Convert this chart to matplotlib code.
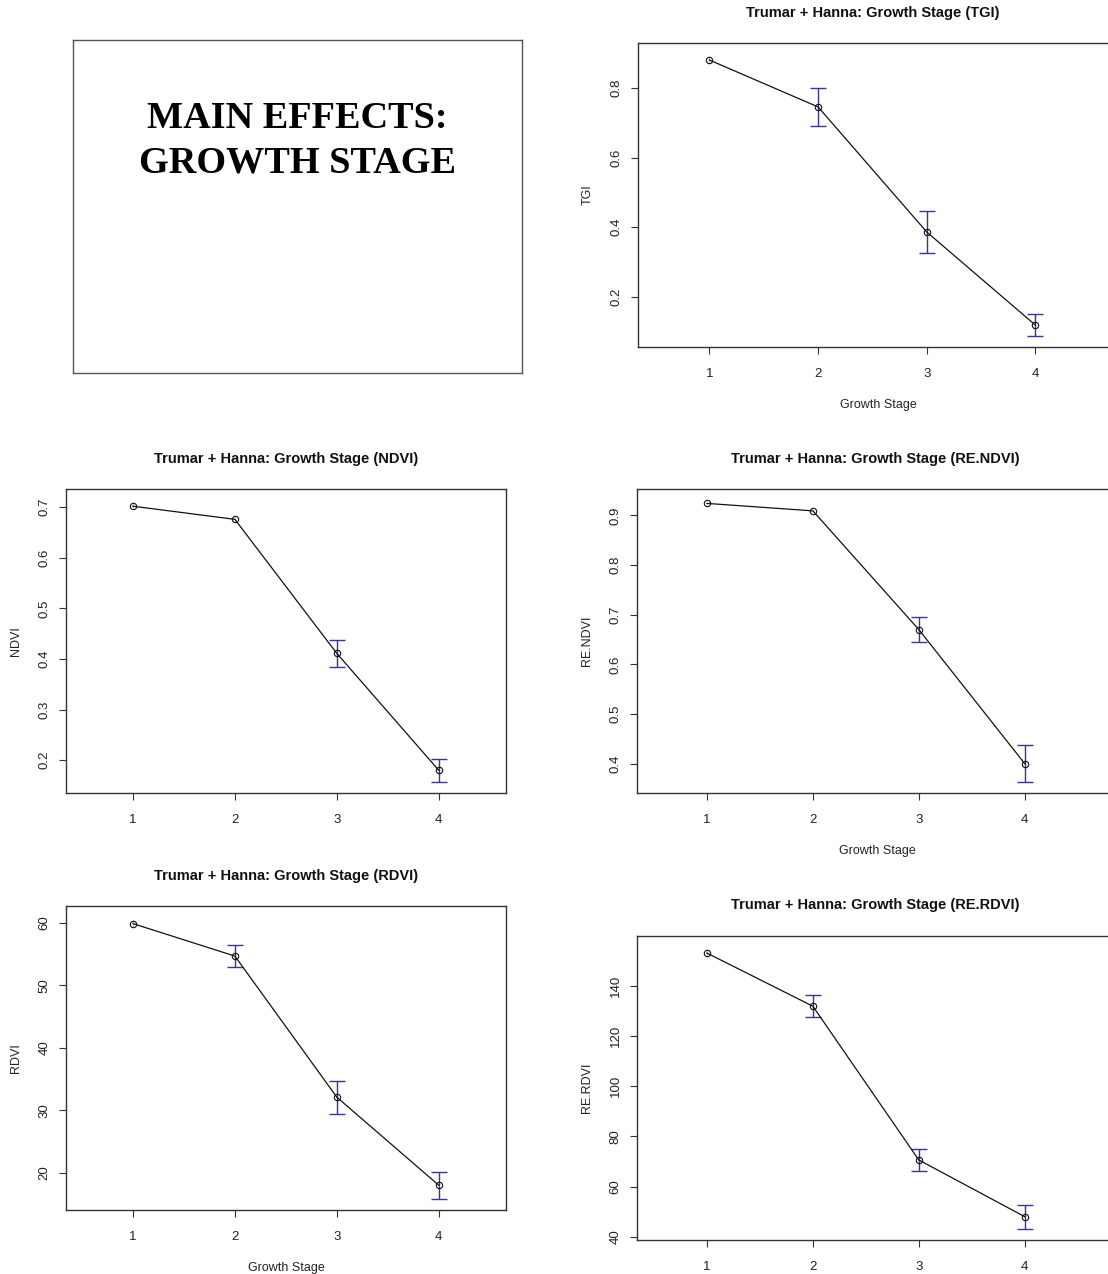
import matplotlib
matplotlib.use("Agg")
import matplotlib.pyplot as plt

stages = [1, 2, 3, 4]

tgi_mean = [0.881, 0.746, 0.386, 0.118]
tgi_err = [0.008, 0.055, 0.060, 0.031]

ndvi_mean = [0.702, 0.676, 0.411, 0.180]
ndvi_err = [0.006, 0.006, 0.027, 0.023]

rendvi_mean = [0.924, 0.909, 0.670, 0.400]
rendvi_err = [0.003, 0.003, 0.025, 0.037]

rdvi_mean = [59.9, 54.7, 32.1, 18.0]
rdvi_err = [0.6, 1.75, 2.65, 2.15]

rerdvi_mean = [153.1, 131.9, 70.6, 48.0]
rerdvi_err = [1.5, 4.45, 4.45, 4.85]

W, H = 1108, 1274
fig = plt.figure(figsize=(W / 100, H / 100), dpi=100)
plt.rcParams['font.family'] = ['Liberation Sans', 'DejaVu Sans']

def rect(l, t, r, b):
    return [l / W, 1 - b / H, (r - l) / W, (b - t) / H]

# Title box
tb = fig.add_axes(rect(73, 40, 522, 373))
tb.set_xticks([]); tb.set_yticks([])
for s in tb.spines.values():
    s.set_color('#555555'); s.set_linewidth(1.0)
for txt, yy in (("MAIN EFFECTS:", 0.765), ("GROWTH STAGE", 0.632)):
    tb.text(0.5, yy, txt, transform=tb.transAxes, ha='center', va='center',
            family=['Liberation Serif', 'DejaVu Serif'], fontweight='bold', fontsize=27.5)

panels = [
    ((638, 43, 1118, 347), "TGI", tgi_mean, tgi_err, (0.343, 4.76), (0.055, 0.930),
     [0.2, 0.4, 0.6, 0.8], True, 13, 873),
    ((66, 489, 506, 793), "NDVI", ndvi_mean, ndvi_err, (0.343, 4.66), (0.135, 0.736),
     [0.2, 0.3, 0.4, 0.5, 0.6, 0.7], False, 459, 286),
    ((637, 489, 1118, 793), "RE.NDVI", rendvi_mean, rendvi_err, (0.34, 4.88), (0.341, 0.953),
     [0.4, 0.5, 0.6, 0.7, 0.8, 0.9], True, 459, 875),
    ((66, 906, 506, 1210), "RDVI", rdvi_mean, rdvi_err, (0.343, 4.66), (14.03, 62.72),
     [20, 30, 40, 50, 60], True, 876, 286),
    ((637, 936, 1118, 1240), "RE.RDVI", rerdvi_mean, rerdvi_err, (0.34, 4.88), (38.7, 159.9),
     [40, 60, 80, 100, 120, 140], False, 905, 875),
]

ecol = '#36369a'
for (l, t, r, b), name, mean, err, xl, yl, yt, showx, ty, tx in panels:
    ax = fig.add_axes(rect(l, t, r, b))
    span = yl[1] - yl[0]
    # R's arrows() skips the cap heads for very short bars
    big = [i for i in range(len(stages)) if err[i] / span > 0.02]
    small = [i for i in range(len(stages)) if err[i] / span <= 0.02]
    if big:
        ax.errorbar([stages[i] for i in big], [mean[i] for i in big],
                    yerr=[err[i] for i in big], fmt='none', ecolor=ecol,
                    elinewidth=1.0, capsize=5.5, capthick=1.0, zorder=2)
    if small:
        ax.errorbar([stages[i] for i in small], [mean[i] for i in small],
                    yerr=[err[i] for i in small], fmt='none', ecolor='#b8b8d8',
                    elinewidth=0.8, capsize=0, linestyle=':', zorder=2)
    ax.plot(stages, mean, color='#111111', lw=0.9, marker='o', markersize=4.6,
            markerfacecolor='none', markeredgecolor='#111111', markeredgewidth=0.8, zorder=3)
    ax.set_xlim(*xl)
    ax.set_ylim(*yl)
    ax.set_xticks(stages)
    ax.set_yticks(yt)
    ax.set_yticklabels([f"{v:g}" for v in yt], rotation=90, va='center')
    ax.tick_params(direction='out', length=5, width=0.8, color='#333333',
                   labelsize=9.5, labelcolor='#222222')
    ax.tick_params(axis='x', pad=10)
    ax.tick_params(axis='y', pad=6)
    for s in ax.spines.values():
        s.set_color('#333333'); s.set_linewidth(1.0)
    ax.set_ylabel(name, fontsize=9, color='#222222', labelpad=12)
    if showx:
        ax.set_xlabel("Growth Stage", fontsize=9, color='#222222', labelpad=14)
    fig.text(tx / W, 1 - ty / H, f"Trumar + Hanna: Growth Stage ({name})", ha='center',
             va='center', fontsize=10.5, fontweight='bold', color='#111111')

fig.savefig("out.png", dpi=100, facecolor='white')
